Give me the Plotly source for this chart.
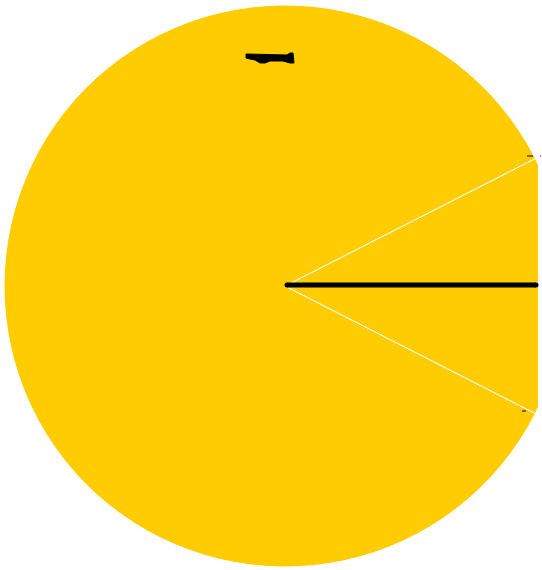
import plotly.graph_objects as go

labels = ["Mouth (upper)", "Pac-Man", "Mouth (lower)"]
values = [7.5, 85, 7.5]
colors = ["#FECC00", "#FECC00", "#FECC00"]

W, H = 570, 570

fig = go.Figure(go.Pie(
    labels=labels, values=values, sort=False,
    direction="counterclockwise", rotation=63,
    marker=dict(colors=colors, line=dict(color="white", width=1)),
    textinfo="none", hoverinfo="label+percent", showlegend=False,
    domain=dict(x=[4 / W, 566 / W], y=[1 - 567 / H, 1 - 5 / H]),
))

def px(x, y):
    return x / W, 1 - y / H

shapes = []
# white cut on the right edge of the mouth
x0, _ = px(538, 0)
shapes.append(dict(type="rect", xref="paper", yref="paper", x0=x0, x1=1, y0=0, y1=1,
                   fillcolor="white", line=dict(width=0), layer="above"))
# black line in the mouth
ax, ay = px(287, 285)
bx, by = px(536, 285)
shapes.append(dict(type="line", xref="paper", yref="paper", x0=ax, y0=ay, x1=bx, y1=by,
                   line=dict(color="black", width=5), layer="above"))
# rounded ends
for cx in (287, 536):
    c0 = px(cx - 2.5, 282.5); c1 = px(cx + 2.5, 287.5)
    shapes.append(dict(type="circle", xref="paper", yref="paper",
                       x0=c0[0], y0=c1[1], x1=c1[0], y1=c0[1],
                       fillcolor="black", line=dict(width=0), layer="above"))
# eye
pts = [(246, 54), (287, 55), (290, 53), (293, 53), (294, 63), (290, 63), (283, 61),
       (277, 61), (270, 61), (265, 63), (260, 63), (255, 60), (250, 59), (246, 58)]
path = "M " + " L ".join(f"{px(x, y)[0]:.5f},{px(x, y)[1]:.5f}" for x, y in pts) + " Z"
shapes.append(dict(type="path", xref="paper", yref="paper", path=path,
                   fillcolor="black", line=dict(color="black", width=1), layer="above"))
# tiny edge ticks
for (x1, y1, x2, y2) in [(527, 156, 533, 156), (540, 156, 541, 156), (522, 411, 526, 411)]:
    p1 = px(x1, y1); p2 = px(x2, y2)
    shapes.append(dict(type="line", xref="paper", yref="paper", x0=p1[0], y0=p1[1],
                       x1=p2[0], y1=p2[1], line=dict(color="black", width=1), layer="above"))

fig.update_layout(
    width=W, height=H, autosize=False,
    margin=dict(l=0, r=0, t=0, b=0),
    paper_bgcolor="white", plot_bgcolor="white",
    shapes=shapes,
)

fig.write_html("out.html", config={"displayModeBar": False},
               post_script="document.body.style.margin='0';document.body.style.overflow='hidden';")
